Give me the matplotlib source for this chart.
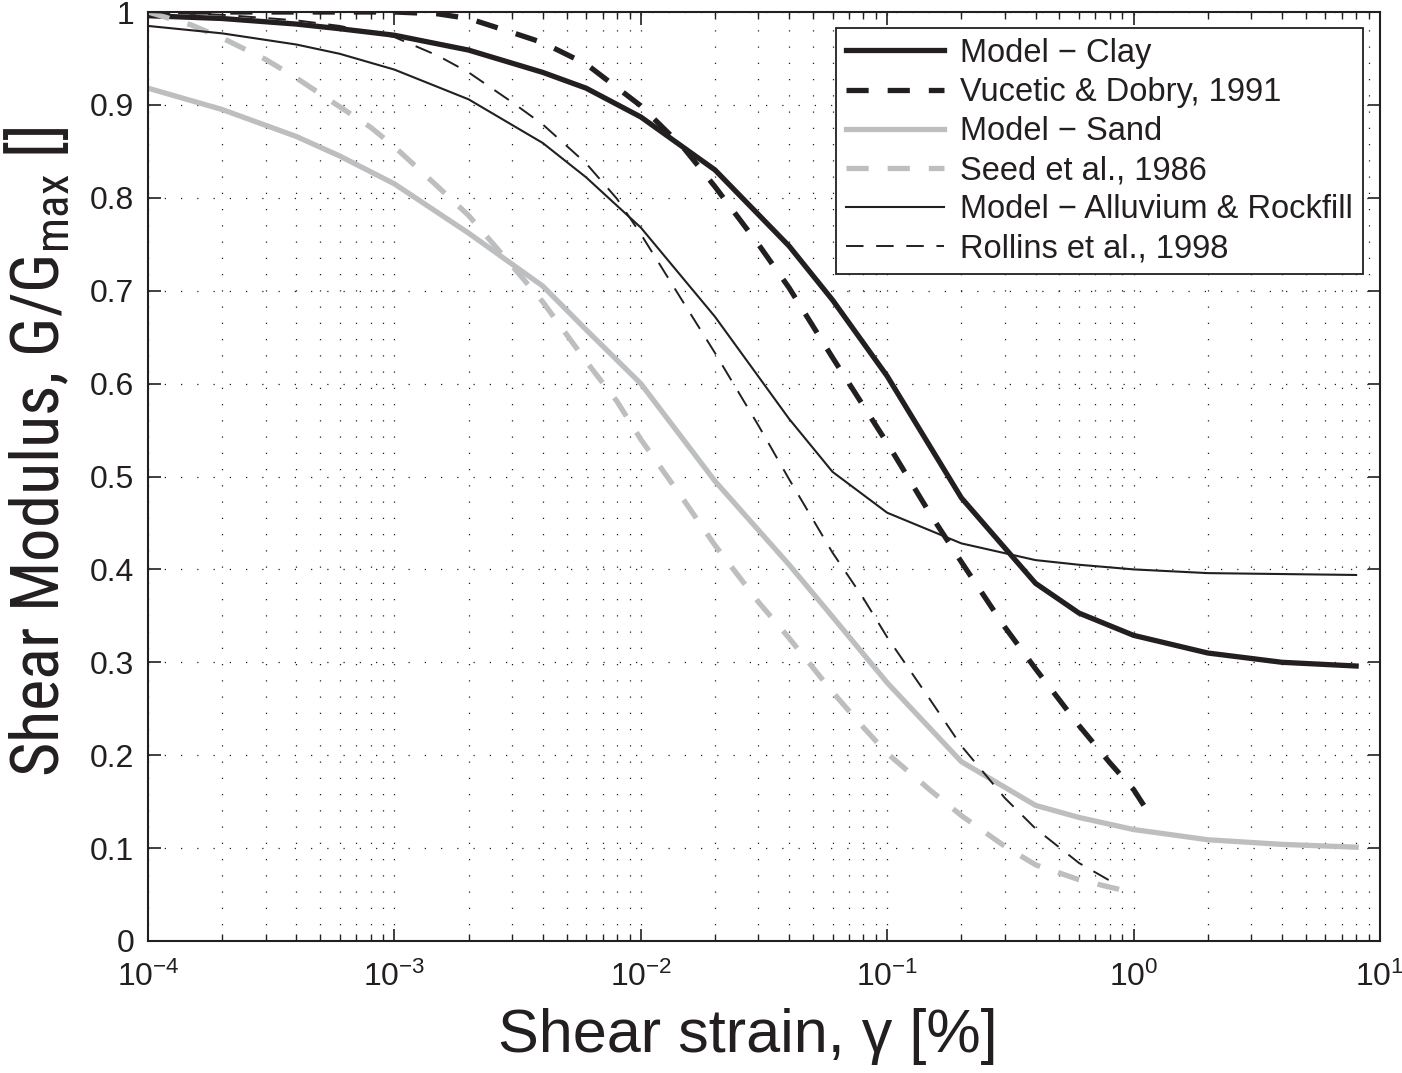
import numpy as np
import matplotlib
matplotlib.use('Agg')
import matplotlib.pyplot as plt
from matplotlib import font_manager
from matplotlib.ticker import LogLocator, LogFormatterMathtext

plt.rcParams['font.family'] = ['Liberation Sans', 'DejaVu Sans']
plt.rcParams['mathtext.fontset'] = 'custom'
plt.rcParams['mathtext.rm'] = 'Liberation Sans'
plt.rcParams['mathtext.it'] = 'Liberation Sans:italic'
plt.rcParams['mathtext.bf'] = 'Liberation Sans:bold'

# data (strain in %, G/Gmax)
clay_x = [1e-4, 2e-4, 4e-4, 6e-4, 1e-3, 2e-3, 4e-3, 6e-3, 1e-2, 2e-2, 4e-2, 6e-2, 0.1, 0.2, 0.4, 0.6, 1, 2, 4, 8]
clay_y = [0.996, 0.993, 0.987, 0.982, 0.975, 0.959, 0.935, 0.918, 0.887, 0.830, 0.748, 0.690, 0.608, 0.477,
          0.385, 0.353, 0.329, 0.310, 0.300, 0.296]

vucetic_x = [1e-4, 2e-4, 4e-4, 6e-4, 1e-3, 1.5e-3, 2e-3, 3e-3, 4e-3, 6e-3, 1e-2, 1.5e-2, 2e-2, 3e-2, 4e-2,
             6e-2, 0.1, 0.15, 0.2, 0.3, 0.4, 0.6, 0.8, 1.0, 1.1]
vucetic_y = [1.0, 1.0, 1.0, 1.0, 1.0, 0.998, 0.993, 0.978, 0.967, 0.944, 0.899, 0.853, 0.812, 0.750, 0.703,
             0.628, 0.536, 0.459, 0.408, 0.338, 0.293, 0.232, 0.192, 0.163, 0.146]

sand_x = [1e-4, 2e-4, 4e-4, 6e-4, 1e-3, 2e-3, 4e-3, 6e-3, 1e-2, 2e-2, 4e-2, 6e-2, 0.1, 0.2, 0.4, 0.6, 1, 2, 4, 8]
sand_y = [0.918, 0.895, 0.866, 0.845, 0.815, 0.762, 0.705, 0.658, 0.600, 0.495, 0.405, 0.349, 0.278, 0.193,
          0.146, 0.133, 0.120, 0.109, 0.104, 0.101]

seed_x = [1e-4, 1.5e-4, 2e-4, 3e-4, 4e-4, 6e-4, 8e-4, 1e-3, 1.5e-3, 2e-3, 3e-3, 4e-3, 6e-3, 8e-3, 1e-2,
          1.5e-2, 2e-2, 3e-2, 4e-2, 6e-2, 8e-2, 0.1, 0.15, 0.2, 0.3, 0.4, 0.6, 0.8, 1.0]
seed_y = [1.0, 0.986, 0.972, 0.949, 0.929, 0.898, 0.876, 0.855, 0.812, 0.781, 0.727, 0.688, 0.624, 0.581,
          0.540, 0.474, 0.426, 0.365, 0.326, 0.268, 0.230, 0.202, 0.162, 0.135, 0.102, 0.082, 0.066, 0.058, 0.052]

alluv_x = [1e-4, 2e-4, 4e-4, 6e-4, 1e-3, 2e-3, 4e-3, 6e-3, 1e-2, 2e-2, 4e-2, 6e-2, 0.1, 0.2, 0.4, 0.6, 1, 2, 4, 8]
alluv_y = [0.985, 0.977, 0.965, 0.955, 0.938, 0.906, 0.859, 0.822, 0.768, 0.672, 0.562, 0.505, 0.461, 0.428,
           0.410, 0.405, 0.400, 0.396, 0.395, 0.394]

rollins_x = [1e-4, 2e-4, 4e-4, 6e-4, 1e-3, 1.5e-3, 2e-3, 3e-3, 4e-3, 6e-3, 8e-3, 1e-2, 1.5e-2, 2e-2, 3e-2,
             4e-2, 6e-2, 8e-2, 0.1, 0.15, 0.2, 0.3, 0.4, 0.6, 0.85]
rollins_y = [1.0, 0.997, 0.991, 0.985, 0.973, 0.953, 0.935, 0.903, 0.879, 0.837, 0.799, 0.761, 0.686, 0.633,
             0.555, 0.497, 0.418, 0.369, 0.327, 0.259, 0.210, 0.154, 0.121, 0.084, 0.061]

ytick_labels = ['0', '0.1', '0.2', '0.3', '0.4', '0.5', '0.6', '0.7', '0.8', '0.9', '1']

black = '#231f20'
grey = '#bcbec0'

# look for a condensed face for the y label, else plain sans a bit smaller
installed = {f.name for f in font_manager.fontManager.ttflist}
narrow = [n for n in ['Liberation Sans Narrow', 'Roboto Condensed', 'Open Sans Condensed'] if n in installed]
if narrow:
    ylab_family = [narrow[0], 'Liberation Sans']
    ylab_size = 48
    ylab_x = -0.061
else:
    ylab_family = ['Liberation Sans']
    ylab_size = 42
    ylab_x = -0.068

fig = plt.figure(figsize=(14.02, 10.73), dpi=100)
ax = fig.add_axes([148/1402, 132/1073, 1232/1402, 929/1073])

ax.plot(clay_x, clay_y, color=black, lw=3.8, label='Model \u2212 Clay')
ax.plot(vucetic_x, vucetic_y, color=black, lw=3.8, dashes=(4.2, 3.6), label='Vucetic & Dobry, 1991')
ax.plot(sand_x, sand_y, color=grey, lw=3.8, label='Model \u2212 Sand')
ax.plot(seed_x, seed_y, color=grey, lw=3.8, dashes=(4.2, 3.6), label='Seed et al., 1986')
ax.plot(alluv_x, alluv_y, color=black, lw=1.5, label='Model \u2212 Alluvium & Rockfill')
ax.plot(rollins_x, rollins_y, color=black, lw=1.4, dashes=(9, 6.5), label='Rollins et al., 1998')

ax.set_xscale('log')
ax.set_xlim(1e-4, 10)
ax.set_ylim(0, 1)
ax.xaxis.set_major_locator(LogLocator(base=10, numticks=10))
ax.xaxis.set_minor_locator(LogLocator(base=10, subs=np.arange(2, 10), numticks=20))
ax.xaxis.set_major_formatter(LogFormatterMathtext())
ax.set_yticks(np.linspace(0, 1, 11))
ax.set_yticklabels(ytick_labels)

ax.grid(True, which='major', axis='both', color=black, lw=0.9, linestyle=(0, (1, 12)))
ax.grid(True, which='minor', axis='x', color=black, lw=0.9, linestyle=(0, (1, 12)))

ax.tick_params(which='both', direction='in', top=True, right=True, labelsize=23, colors=black)
ax.tick_params(which='major', length=9, width=1.2)
ax.tick_params(which='minor', length=5, width=1.0)
ax.tick_params(axis='x', pad=15)
ax.tick_params(axis='y', pad=10)
for s in ax.spines.values():
    s.set_linewidth(1.5)
    s.set_color(black)

ax.set_xlabel('Shear strain, \u03b3 [%]', fontsize=44, color=black)
ax.xaxis.set_label_coords(0.487, -0.072)
ax.set_ylabel('Shear Modulus, G/G$_{\\mathregular{max}}$ []', fontsize=ylab_size, color=black,
              family=ylab_family)
ax.yaxis.set_label_coords(ylab_x, 0.527)

leg = ax.legend(loc='upper right', bbox_to_anchor=(0.9862, 0.9828), borderaxespad=0, fontsize=23.5,
                fancybox=False, framealpha=1, edgecolor=black, handlelength=3.0, handletextpad=0.5,
                labelspacing=0.25, borderpad=0.3)
leg.get_frame().set_linewidth(1.3)
for t in leg.get_texts():
    t.set_color(black)

fig.savefig('out.png', dpi=100)
